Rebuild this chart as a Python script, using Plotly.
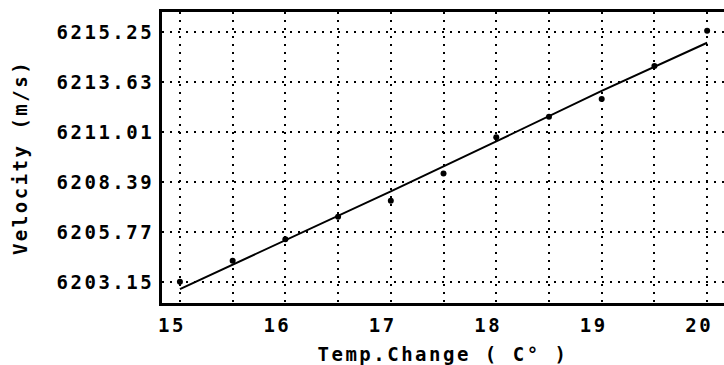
import plotly.graph_objects as go

# Data
temp = [15.0, 15.5, 16.0, 16.5, 17.0, 17.5, 18.0, 18.5, 19.0, 19.5, 20.0]
velocity = [6203.17, 6204.27, 6205.39, 6206.57, 6207.41, 6208.84,
            6210.73, 6211.81, 6212.74, 6214.47, 6216.32]
fit_x = [15.0, 16.0, 17.0, 18.0, 19.0, 20.0]
fit_y = [6202.78, 6205.35, 6207.90, 6210.52, 6213.17, 6215.69]

x_tickvals = [15, 15.5, 16, 16.5, 17, 17.5, 18, 18.5, 19, 19.5, 20]
x_ticktext = ["15", "", "16", "", "17", "", "18", "", "19", "", "20"]
y_tickvals = [6203.15, 6205.77, 6208.39, 6211.01, 6213.63, 6216.25]
y_ticktext = ["6203.15", "6205.77", "6208.39", "6211.01", "6213.63", "6215.25"]
x_title = "Temp.Change ( C° )"
y_title = "Velocity (m/s)"


def spaced(s, px=2.5):
    return f'<span style="letter-spacing:{px}px">{s}</span>' if s else s


TF = dict(family="DejaVu Sans Mono", size=19, color="black", weight="bold")

fig = go.Figure()
fig.add_trace(go.Scatter(x=fit_x, y=fit_y, mode="lines",
                         line=dict(color="black", width=2), showlegend=False))
fig.add_trace(go.Scatter(x=temp, y=velocity, mode="markers",
                         marker=dict(color="black", size=6), showlegend=False))

grid = dict(showgrid=True, gridcolor="black", gridwidth=2, griddash="2px,6px",
            zeroline=False)

fig.update_layout(
    width=724, height=365,
    margin=dict(l=162, r=0, t=12, b=62),
    paper_bgcolor="white", plot_bgcolor="white",
    font=TF,
    xaxis=dict(range=[14.83, 20.16], tickvals=x_tickvals,
               ticktext=[spaced(t) for t in x_ticktext],
               showline=True, linecolor="black", linewidth=3, mirror=True,
               ticks="", ticklabelstandoff=3, ticklabelshift=-8,
               tickfont=TF,
               title=dict(text=spaced(x_title), standoff=13, font=TF),
               **grid),
    yaxis=dict(range=[6202.05, 6217.30], tickvals=y_tickvals,
               ticktext=[spaced(t) for t in y_ticktext],
               showline=True, linecolor="black", linewidth=3, mirror=False,
               ticks="", ticklabelstandoff=1,
               tickfont=TF,
               title=dict(text=spaced(y_title), standoff=24, font=TF),
               **grid),
)

fig.write_html("out.html")
